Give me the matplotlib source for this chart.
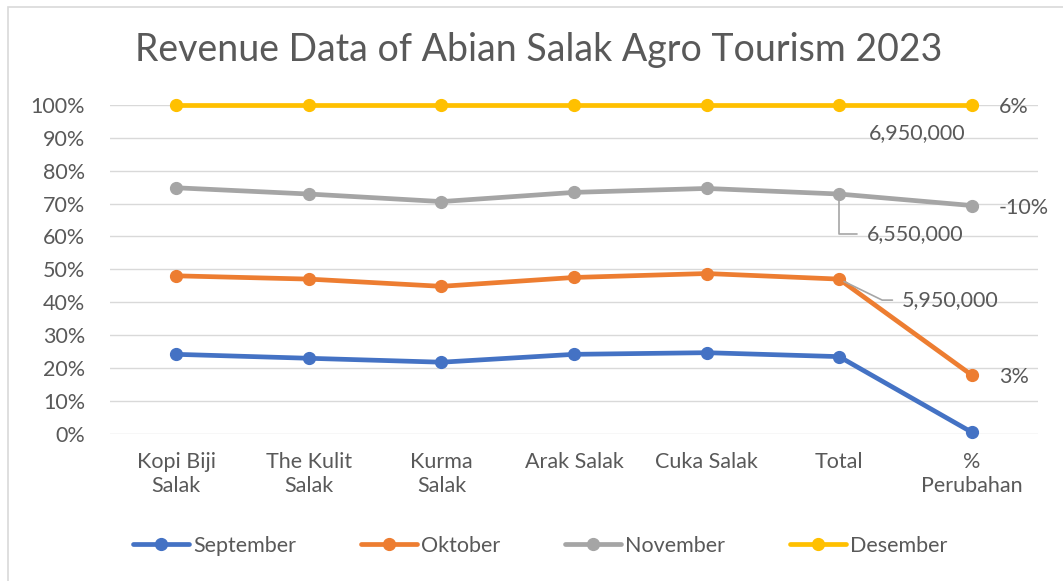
import matplotlib
matplotlib.use("Agg")
import matplotlib.pyplot as plt
import numpy as np
from matplotlib.lines import Line2D
from matplotlib.patches import Rectangle

plt.rcParams['font.family'] = ['Lato', 'DejaVu Sans']

# Categories and per-month shares (% of each category, 100% stacked)
categories = ['Kopi Biji\nSalak', 'The Kulit\nSalak', 'Kurma\nSalak', 'Arak Salak',
              'Cuka Salak', 'Total', '%\nPerubahan']
months = ['September', 'Oktober', 'November', 'Desember']
september = [24.1, 22.9, 21.7, 24.1, 24.6, 23.4, 0.4]
oktober = [23.9, 24.1, 23.1, 23.4, 24.1, 23.6, 17.4]
november = [26.8, 25.9, 25.8, 25.9, 25.9, 25.9, 51.6]
desember = [25.2, 27.1, 29.4, 26.6, 25.4, 27.1, 30.6]
colors = ['#4472C4', '#ED7D31', '#A5A5A5', '#FFC000']

total_labels = ['5,950,000', '6,550,000', '6,950,000']   # Oktober, November, Desember totals
change_labels = ['3%', '-10%', '6%']                      # Oktober, November, Desember % change

text_col = '#595959'
fs = 15.5

fig = plt.figure(figsize=(10.63, 5.81), dpi=100)
fig.patches.append(Rectangle((8 / 1063, -0.1), 1.2, (581 - 7) / 581 + 0.1,
                             transform=fig.transFigure, facecolor='none',
                             edgecolor='#D9D9D9', linewidth=1.2))
ax = fig.add_axes([110 / 1063, 1 - 433.5 / 581, (1038 - 110) / 1063, (433.5 - 105) / 581])

x = np.arange(len(categories))
stack = np.cumsum(np.array([september, oktober, november, desember]) / 100.0, axis=0)

for i, (name, col) in enumerate(zip(months, colors)):
    ax.plot(x, stack[i], color=col, linewidth=3.4, marker='o', markersize=8.5,
            solid_capstyle='round', clip_on=False, zorder=3, label=name)

ax.set_xlim(-0.5, len(categories) - 0.5)
ax.set_ylim(0, 1)
ax.set_yticks(np.arange(0, 1.01, 0.1))
ax.set_yticklabels([f'{int(round(v * 100))}%' for v in np.arange(0, 1.01, 0.1)])
ax.set_xticks(x)
ax.set_xticklabels(categories, linespacing=1.25)
ax.tick_params(axis='both', length=0, labelsize=fs, labelcolor=text_col)
ax.tick_params(axis='y', pad=18)
ax.tick_params(axis='x', pad=13)
ax.grid(axis='y', color='#D9D9D9', linewidth=1.0)
ax.set_axisbelow(True)
for s in ax.spines.values():
    s.set_visible(False)

# % change labels to the right of the last column
last = len(categories) - 1
for i, lab in enumerate(change_labels):
    ax.annotate(lab, (x[last], stack[i + 1][last]), xytext=(27, -2),
                textcoords='offset pixels', ha='left', va='center',
                fontsize=fs, color=text_col, annotation_clip=False)

# Total labels
tot = 5
lc = '#A6A6A6'
ax.annotate(total_labels[2], (x[tot], stack[3][tot]), xytext=(78, -28),
            textcoords='offset pixels', ha='center', va='center',
            fontsize=fs, color=text_col)
ax.annotate(total_labels[1], (x[tot], stack[2][tot]), xytext=(28, -40),
            textcoords='offset pixels', ha='left', va='center',
            fontsize=fs, color=text_col,
            arrowprops=dict(arrowstyle='-', color=lc, lw=1.2, relpos=(0, 0.5),
                            shrinkA=5, shrinkB=4,
                            connectionstyle='angle,angleA=0,angleB=90,rad=0'))
ax.annotate(total_labels[0], (x[tot], stack[1][tot]), xytext=(63, -21),
            textcoords='offset pixels', ha='left', va='center',
            fontsize=fs, color=text_col,
            arrowprops=dict(arrowstyle='-', color=lc, lw=1.2, relpos=(0, 0.5),
                            shrinkA=5, shrinkB=4,
                            connectionstyle='angle,angleA=0,angleB=-26,rad=0'))

fig.text(539 / 1063, 1 - 50 / 581, 'Revenue Data of Abian Salak Agro Tourism 2023',
         ha='center', va='center', fontsize=27, color=text_col)

handles = [Line2D([], [], color=c, linewidth=3.4, marker='o', markersize=8.5,
                  solid_capstyle='round') for c in colors]
fig.legend(handles, months, loc='center', bbox_to_anchor=(540 / 1063, 1 - 546 / 581),
           ncol=4, frameon=False, fontsize=fs, handlelength=2.6, handletextpad=0.2,
           columnspacing=3.0, labelcolor=text_col)

fig.savefig('out.png', dpi=100)
